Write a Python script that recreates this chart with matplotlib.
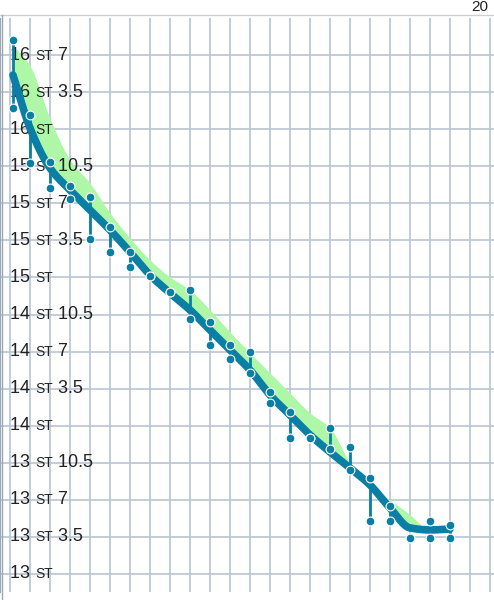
import matplotlib
matplotlib.use("Agg")
import matplotlib.pyplot as plt
import numpy as np
from matplotlib.offsetbox import TextArea, HPacker, AnnotationBbox

plt.rcParams['font.family'] = ['Liberation Sans', 'DejaVu Sans']

days = [0.15] + list(range(1, 23))
trend = [229.11, 224.11, 220.33, 218.25, 216.37, 214.48, 212.40, 210.23, 208.53, 206.93,
         205.04, 203.15, 201.26, 198.90, 197.01, 195.13, 193.52, 192.01, 190.41, 188.24,
         186.35, 186.16, 186.25]
band_upper = [231.94, 230.0, 225.0, 221.1, 218.9, 216.08, 213.72, 211.65, 210.04, 208.82,
              206.93, 204.85, 202.87, 200.98, 199.09, 197.20, 195.79, 192.49, 190.22, 189.0,
              187.6, 186.16, 186.25]
meas_high = [232.42, 225.34, 220.90, 218.63, 217.59, 214.76, 212.40, 210.13, 208.63, 208.82,
             205.80, 203.62, 202.96, 199.19, 197.30, 194.84, 195.79, 193.99, 191.07, 188.43,
             185.40, 187.01, 186.63]
meas_low = [226.0, 220.80, 218.44, 217.40, 213.63, 212.40, 210.99, 210.13, 208.63, 206.08,
            203.62, 202.30, 200.98, 198.15, 194.84, 194.84, 193.80, 191.82, 187.01, 187.01,
            185.40, 185.40, 185.40]
tick_lbs = [182 + 3.5 * k for k in range(15)]


def pchip(x, y, xn):
    x = np.asarray(x, float); y = np.asarray(y, float)
    h = np.diff(x); dlt = np.diff(y) / h
    m = np.zeros_like(y)
    for i in range(1, len(y) - 1):
        if dlt[i - 1] * dlt[i] > 0:
            w1 = 2 * h[i] + h[i - 1]; w2 = h[i] + 2 * h[i - 1]
            m[i] = (w1 + w2) / (w1 / dlt[i - 1] + w2 / dlt[i])
    m[0] = dlt[0]; m[-1] = dlt[-1]
    idx = np.clip(np.searchsorted(x, xn) - 1, 0, len(h) - 1)
    t = (xn - x[idx]) / h[idx]
    h00 = 2 * t**3 - 3 * t**2 + 1; h10 = t**3 - 2 * t**2 + t
    h01 = -2 * t**3 + 3 * t**2; h11 = t**3 - t**2
    return h00 * y[idx] + h10 * h[idx] * m[idx] + h01 * y[idx + 1] + h11 * h[idx] * m[idx + 1]


blue = '#0a7ea4'
fig = plt.figure(figsize=(4.94, 6.0), dpi=100)
ax = fig.add_axes([0, 8 / 600, 1, (600 - 18 - 8) / 600])
ax.set_xlim(-0.5, 24.2)
ax.set_ylim(180.3, 234.5)
for s in ['top', 'right', 'bottom']:
    ax.spines[s].set_visible(False)
ax.spines['left'].set_color('#9aa8b6')
ax.set_xticks(range(0, 25))
ax.set_yticks(tick_lbs)
ax.tick_params(length=0, labelleft=False, labelbottom=False)
ax.grid(True, color='#b8c5d2', lw=1.2, zorder=0)

xs = np.linspace(days[0], days[-1], 600)
tr_s = pchip(days, trend, xs)
bu_s = pchip(days, band_upper, xs)
ax.fill_between(xs, tr_s, np.maximum(bu_s, tr_s), color='#aef7a6', zorder=2, lw=0)

for d, lo, hi in zip(days, meas_low, meas_high):
    ax.plot([d, d], [lo, hi], color=blue, lw=2, zorder=4)
ax.plot(xs, tr_s, color=blue, lw=5.5, zorder=4, solid_capstyle='round')
ax.scatter(days, meas_high, s=40, color=blue, edgecolor='white', lw=0.8, zorder=5)
ax.scatter(days, meas_low, s=40, color=blue, edgecolor='white', lw=0.8, zorder=5)

for v in tick_lbs:
    st = int(v // 14)
    rem = v - st * 14
    rem_s = '' if rem == 0 else (f'{rem:.1f}' if rem % 1 else f'{int(rem)}')
    parts = [TextArea(f'{st} ', textprops=dict(fontsize=13, color='#222222')),
             TextArea('ST', textprops=dict(fontsize=10, color='#222222'))]
    if rem_s:
        parts.append(TextArea(f' {rem_s}', textprops=dict(fontsize=13, color='#222222')))
    box = HPacker(children=parts, align='baseline', pad=0, sep=0)
    ab = AnnotationBbox(box, (0.02, v), xycoords=('axes fraction', 'data'),
                        box_alignment=(0, 0.5), frameon=False, zorder=3.5)
    ax.add_artist(ab)

fig.add_artist(plt.Line2D([0, 1], [1 - 15 / 600, 1 - 15 / 600], color='#c8d0d8', lw=1))
fig.add_artist(plt.Line2D([2 / 494, 2 / 494], [0, 1 - 15 / 600], color='#9aa8b6', lw=1))
fig.text(0.972, 1.0, '20', fontsize=11, ha='center', va='top', color='#222222')

fig.savefig('out.png', dpi=100)
